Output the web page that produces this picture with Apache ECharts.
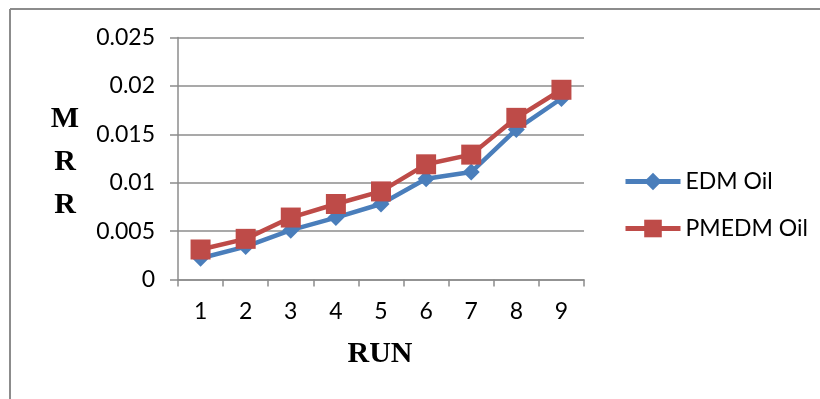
<!DOCTYPE html>
<html>
<head>
<meta charset="utf-8">
<script src="https://cdn.jsdelivr.net/npm/echarts@6/dist/echarts.min.js"></script>
<style>
  html, body { margin: 0; padding: 0; background: #fff; }
  #chart { width: 820px; height: 399px; }
</style>
</head>
<body>
<div id="chart"></div>
<script>
// Run numbers on the x axis
const runs = ['1', '2', '3', '4', '5', '6', '7', '8', '9'];
// Material removal rate per run, for each dielectric
const edmOil = [0.0022, 0.0034, 0.0051, 0.0064, 0.0078, 0.0104, 0.0111, 0.0155, 0.0187];
const pmedmOil = [0.0031, 0.0042, 0.0064, 0.0078, 0.0091, 0.0119, 0.0129, 0.0167, 0.0196];
const seriesNames = ['EDM Oil', 'PMEDM Oil'];
const yAxisTitle = 'M\nR\nR';
const xAxisTitle = 'RUN';

const blue = '#4A7EBB';
const red = '#BE4B48';
const grey = '#8C8C8C';
const labelFont = 'Lato, "Open Sans", sans-serif';
const titleFont = 'bold 30px "Liberation Serif", "Times New Roman", serif';

const chart = echarts.init(document.getElementById('chart'), null, { renderer: 'canvas' });
chart.setOption({
  animation: false,
  backgroundColor: '#fff',
  grid: { left: 178, right: 236, top: 37.5, bottom: 119.5, containLabel: false },
  legend: {
    orient: 'vertical',
    left: 623,
    top: 170,
    padding: 0,
    itemWidth: 55,
    itemHeight: 22,
    itemGap: 24,
    lineStyle: { width: 5 },
    textStyle: { fontFamily: labelFont, fontSize: 23, color: '#000' },
    data: seriesNames
  },
  xAxis: {
    type: 'category',
    data: runs,
    boundaryGap: true,
    axisLine: { lineStyle: { color: grey, width: 1.5 } },
    axisTick: { show: true, length: 7, lineStyle: { color: grey, width: 1.5 } },
    axisLabel: { fontFamily: labelFont, fontSize: 23, color: '#000', margin: 21 },
    splitLine: { show: false }
  },
  yAxis: {
    type: 'value',
    min: 0,
    max: 0.025,
    interval: 0.005,
    axisLine: { show: true, lineStyle: { color: grey, width: 1.5 } },
    axisTick: { show: true, length: 8, lineStyle: { color: grey, width: 1.5 } },
    axisLabel: {
      fontFamily: labelFont, fontSize: 23, color: '#000', margin: 23,
      formatter: v => String(parseFloat(v.toFixed(3)))
    },
    splitLine: { lineStyle: { color: grey, width: 1.5 } }
  },
  series: [
    {
      name: seriesNames[0],
      type: 'line',
      data: edmOil,
      symbol: 'diamond',
      symbolSize: 17,
      lineStyle: { color: blue, width: 4.5 },
      itemStyle: { color: blue },
      z: 2
    },
    {
      name: seriesNames[1],
      type: 'line',
      data: pmedmOil,
      symbol: 'rect',
      symbolSize: 20,
      lineStyle: { color: red, width: 4.5 },
      itemStyle: { color: red },
      z: 3
    }
  ],
  graphic: [
    // frame lines along the top and left edges
    { type: 'line', shape: { x1: 10, y1: 9, x2: 820, y2: 9 }, style: { stroke: grey, lineWidth: 2 } },
    { type: 'line', shape: { x1: 10, y1: 9, x2: 10, y2: 399 }, style: { stroke: grey, lineWidth: 2 } },
    {
      type: 'text', x: 65, y: 162,
      style: {
        text: yAxisTitle, fill: '#000', align: 'center', verticalAlign: 'middle',
        font: titleFont, lineHeight: 43
      }
    },
    {
      type: 'text', x: 380, y: 354,
      style: {
        text: xAxisTitle, fill: '#000', align: 'center', verticalAlign: 'middle',
        font: titleFont
      }
    }
  ]
});
</script>
</body>
</html>
